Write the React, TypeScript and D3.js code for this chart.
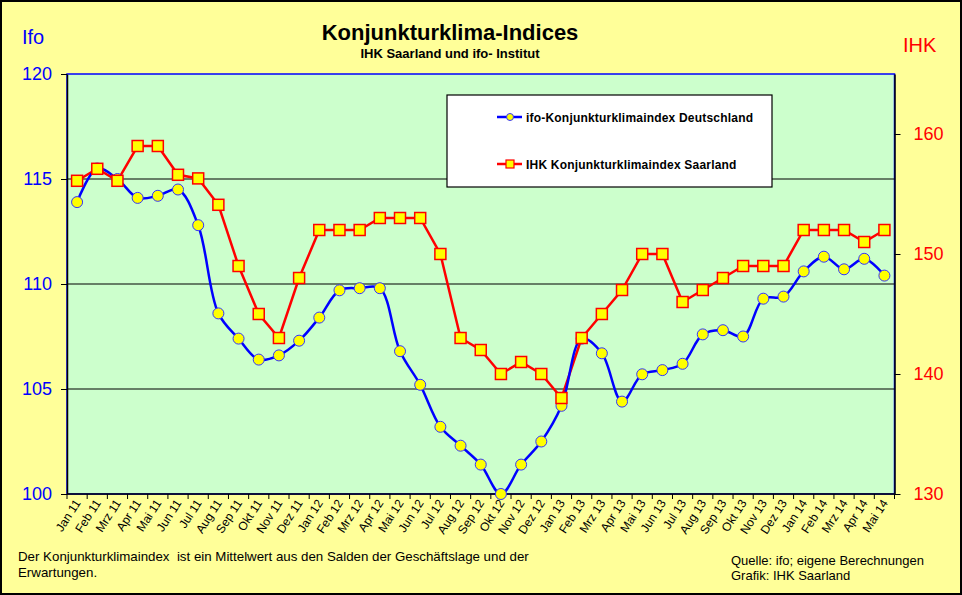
import { useEffect, useRef } from 'react';
import * as d3 from 'd3';

const months = [
  'Jan 11', 'Feb 11', 'Mrz 11', 'Apr 11', 'Mai 11', 'Jun 11', 'Jul 11', 'Aug 11', 'Sep 11', 'Okt 11', 'Nov 11', 'Dez 11',
  'Jan 12', 'Feb 12', 'Mrz 12', 'Apr 12', 'Mai 12', 'Jun 12', 'Jul 12', 'Aug 12', 'Sep 12', 'Okt 12', 'Nov 12', 'Dez 12',
  'Jan 13', 'Feb 13', 'Mrz 13', 'Apr 13', 'Mai 13', 'Jun 13', 'Jul 13', 'Aug 13', 'Sep 13', 'Okt 13', 'Nov 13', 'Dez 13',
  'Jan 14', 'Feb 14', 'Mrz 14', 'Apr 14', 'Mai 14',
];

const ifoValues = [
  113.9, 115.5, 115.0, 114.1, 114.2, 114.5, 112.8, 108.6, 107.4, 106.4, 106.6, 107.3,
  108.4, 109.7, 109.8, 109.8, 106.8, 105.2, 103.2, 102.3, 101.4, 100.0, 101.4, 102.5,
  104.2, 107.4, 106.7, 104.4, 105.7, 105.9, 106.2, 107.6, 107.8, 107.5, 109.3, 109.4,
  110.6, 111.3, 110.7, 111.2, 110.4,
];

const ihkValues = [
  156.1, 157.1, 156.1, 159.0, 159.0, 156.6, 156.3, 154.1, 149.0, 145.0, 143.0, 148.0,
  152.0, 152.0, 152.0, 153.0, 153.0, 153.0, 150.0, 143.0, 142.0, 140.0, 141.0, 140.0,
  138.0, 143.0, 145.0, 147.0, 150.0, 150.0, 146.0, 147.0, 148.0, 149.0, 149.0, 149.0,
  152.0, 152.0, 152.0, 151.0, 152.0,
];

const leftTicks = [100, 105, 110, 115, 120];
const rightTicks = [130, 140, 150, 160];
const gridValues = [105, 110, 115];

const seriesNames = ['ifo-Konjunkturklimaindex Deutschland', 'IHK Konjunkturklimaindex Saarland'];

const FONT = 'Arial, "Liberation Sans", sans-serif';

export default function App() {
  const svgRef = useRef<SVGSVGElement>(null);

  useEffect(() => {
    if (!svgRef.current) return;
    const svg = d3.select(svgRef.current);
    svg.selectAll('*').remove();

    const W = 962, H = 595;
    const plot = { left: 67, right: 894.5, top: 74, bottom: 494 };

    svg.append('rect')
      .attr('x', 1).attr('y', 1).attr('width', W - 2).attr('height', H - 2)
      .attr('fill', '#FFFF99').attr('stroke', '#000').attr('stroke-width', 2);

    const x = d3.scaleBand().domain(months).range([plot.left, plot.right]).padding(0);
    const yL = d3.scaleLinear().domain([100, 120]).range([plot.bottom, plot.top]);
    const yR = d3.scaleLinear().domain([130, 165]).range([plot.bottom, plot.top]);
    const cx = (m: string) => (x(m) ?? 0) + x.bandwidth() / 2;

    // plot area
    svg.append('rect')
      .attr('x', plot.left).attr('y', plot.top)
      .attr('width', plot.right - plot.left).attr('height', plot.bottom - plot.top)
      .attr('fill', '#CCFFCC').attr('stroke', '#0000FF').attr('stroke-width', 1.5);

    svg.append('g').selectAll('line').data(gridValues).enter().append('line')
      .attr('x1', plot.left).attr('x2', plot.right)
      .attr('y1', d => yL(d)).attr('y2', d => yL(d))
      .attr('stroke', '#000').attr('stroke-width', 1.2);

    // left axis
    const gl = svg.append('g').attr('transform', `translate(${plot.left},0)`)
      .call(d3.axisLeft(yL).tickValues(leftTicks).tickSize(6).tickSizeOuter(0).tickPadding(9));
    gl.select('.domain').attr('stroke', '#000').attr('stroke-width', 1.5);
    gl.selectAll('line').attr('stroke', '#000');
    gl.selectAll('text').attr('fill', '#0000FF').attr('font-size', '18px').attr('font-family', FONT);

    // right axis
    const gr = svg.append('g').attr('transform', `translate(${plot.right},0)`)
      .call(d3.axisRight(yR).tickValues(rightTicks).tickSize(6).tickSizeOuter(0).tickPadding(13));
    gr.select('.domain').attr('stroke', '#000').attr('stroke-width', 1.5);
    gr.selectAll('line').attr('stroke', '#000');
    gr.selectAll('text').attr('fill', '#FF0000').attr('font-size', '18px').attr('font-family', FONT);

    // bottom axis
    svg.append('line')
      .attr('x1', plot.left).attr('x2', plot.right)
      .attr('y1', plot.bottom).attr('y2', plot.bottom)
      .attr('stroke', '#000').attr('stroke-width', 1.5);
    svg.append('g').selectAll('line').data(months.concat(['end'])).enter().append('line')
      .attr('x1', (d, i) => plot.left + i * x.bandwidth())
      .attr('x2', (d, i) => plot.left + i * x.bandwidth())
      .attr('y1', plot.bottom).attr('y2', plot.bottom + 5)
      .attr('stroke', '#000');
    svg.append('g').selectAll('text').data(months).enter().append('text')
      .attr('transform', d => `translate(${cx(d) + 4},${plot.bottom + 9}) rotate(-57)`)
      .attr('text-anchor', 'end')
      .attr('font-size', '12px').attr('font-family', FONT)
      .attr('fill', '#000')
      .text(d => d);

    // lines
    const ifoLine = d3.line<number>()
      .x((d, i) => cx(months[i]))
      .y(d => yL(d))
      .curve(d3.curveCatmullRom.alpha(0.5));
    const ihkLine = d3.line<number>()
      .x((d, i) => cx(months[i]))
      .y(d => yR(d));

    svg.append('path').datum(ihkValues).attr('d', ihkLine)
      .attr('fill', 'none').attr('stroke', '#FF0000').attr('stroke-width', 2.5);
    svg.append('path').datum(ifoValues).attr('d', ifoLine)
      .attr('fill', 'none').attr('stroke', '#0000FF').attr('stroke-width', 2.5);

    svg.append('g').selectAll('circle').data(ifoValues).enter().append('circle')
      .attr('cx', (d, i) => cx(months[i])).attr('cy', d => yL(d)).attr('r', 5.5)
      .attr('fill', '#FFFF00').attr('stroke', '#3333FF').attr('stroke-width', 1);
    svg.append('g').selectAll('rect').data(ihkValues).enter().append('rect')
      .attr('x', (d, i) => cx(months[i]) - 5.5).attr('y', d => yR(d) - 5.5)
      .attr('width', 11).attr('height', 11)
      .attr('fill', '#FFFF00').attr('stroke', '#FF0000').attr('stroke-width', 1.5);

    // legend
    const lg = svg.append('g');
    lg.append('rect').attr('x', 447).attr('y', 95).attr('width', 325).attr('height', 92)
      .attr('fill', '#fff').attr('stroke', '#000').attr('stroke-width', 1.2);
    [0, 1].forEach(i => {
      const ly = i === 0 ? 117 : 164;
      const col = i === 0 ? '#0000FF' : '#FF0000';
      lg.append('line').attr('x1', 497).attr('x2', 522).attr('y1', ly).attr('y2', ly)
        .attr('stroke', col).attr('stroke-width', 2.5);
      if (i === 0) {
        lg.append('circle').attr('cx', 510).attr('cy', ly).attr('r', 3.5)
          .attr('fill', '#FFFF00').attr('stroke', '#3333FF');
      } else {
        lg.append('rect').attr('x', 506).attr('y', ly - 4).attr('width', 8).attr('height', 8)
          .attr('fill', '#FFFF00').attr('stroke', '#FF0000').attr('stroke-width', 1.2);
      }
      lg.append('text').attr('x', 526).attr('y', ly + 4.5)
        .attr('font-size', '12px').attr('font-weight', 'bold').attr('font-family', FONT)
        .attr('letter-spacing', '0.2px')
        .text(seriesNames[i]);
    });

    // titles
    svg.append('text').attr('x', 450).attr('y', 40).attr('text-anchor', 'middle')
      .attr('font-size', '22px').attr('font-weight', 'bold').attr('font-family', FONT)
      .text('Konjunkturklima-Indices');
    svg.append('text').attr('x', 450).attr('y', 58).attr('text-anchor', 'middle')
      .attr('font-size', '13px').attr('font-weight', 'bold').attr('font-family', FONT)
      .text('IHK Saarland und ifo- Institut');
    svg.append('text').attr('x', 22).attr('y', 44)
      .attr('font-size', '20px').attr('fill', '#0000FF').attr('font-family', FONT).text('Ifo');
    svg.append('text').attr('x', 903).attr('y', 52)
      .attr('font-size', '20px').attr('fill', '#FF0000').attr('font-family', FONT).text('IHK');

    // footnotes
    const foot = svg.append('g').attr('font-family', FONT).attr('fill', '#000');
    foot.append('text').attr('x', 18).attr('y', 561).attr('font-size', '13.3px')
      .attr('xml:space', 'preserve')
      .text('Der Konjunkturklimaindex  ist ein Mittelwert aus den Salden der Geschäftslage und der');
    foot.append('text').attr('x', 18).attr('y', 577).attr('font-size', '13.3px').text('Erwartungen.');
    foot.append('text').attr('x', 731).attr('y', 565).attr('font-size', '13px').text('Quelle: ifo; eigene Berechnungen');
    foot.append('text').attr('x', 731).attr('y', 580).attr('font-size', '13px').text('Grafik: IHK Saarland');
  }, []);

  return (
    <svg ref={svgRef} width={962} height={595}
      style={{ position: 'absolute', left: 0, top: 0, display: 'block' }} />
  );
}
